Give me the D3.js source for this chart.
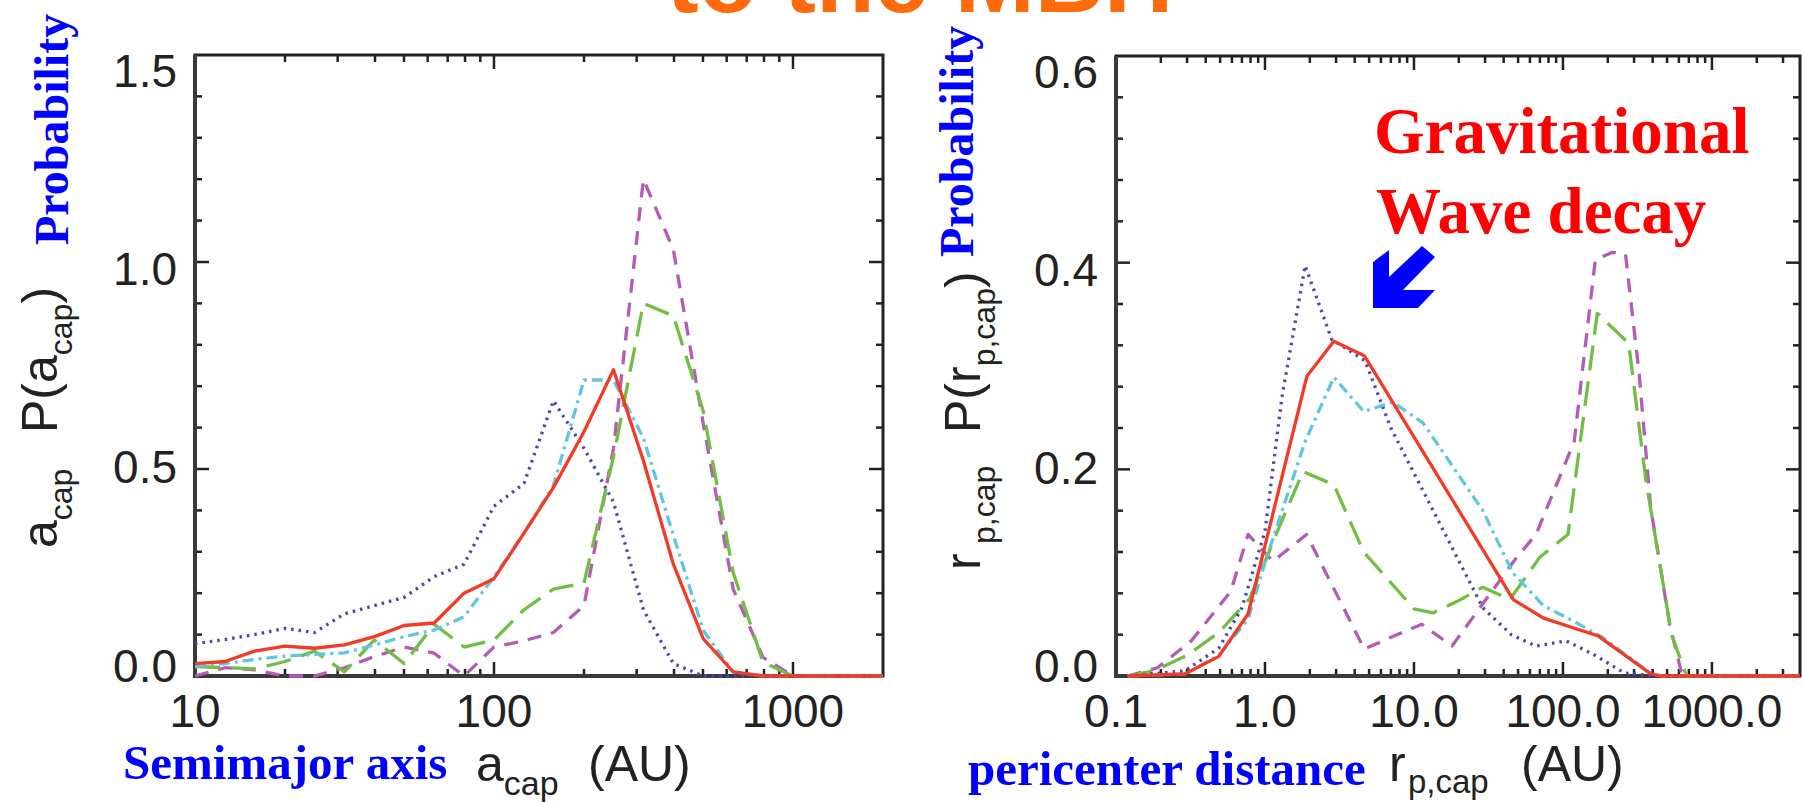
<!doctype html>
<html>
<head>
<meta charset="utf-8">
<script src="https://cdnjs.cloudflare.com/ajax/libs/d3/7.8.5/d3.min.js"></script>
<style>
    body { margin: 0; background: #fff; }
    svg { display: block; }
    .tick-label { font-family: "Liberation Sans", Arial, sans-serif; font-size: 46px; fill: #222; }
    .ax-title { font-family: "Liberation Sans", Arial, sans-serif; font-size: 50px; fill: #222; }
    .note { font-family: "Liberation Serif", "Times New Roman", serif; font-weight: bold; }
</style>
</head>
<body>
<script>
    // ---- left panel: semimajor axis (AU), shared log bins ----
    var aBins    = [10, 12.6, 15.8, 20, 25.1, 31.6, 39.8, 50.1, 63.1, 79.4, 100, 126, 158, 200, 251, 316, 398, 501, 631, 794, 1000, 1259, 1585, 1995];
    var aRed     = [0.03, 0.035, 0.06, 0.072, 0.067, 0.075, 0.095, 0.122, 0.128, 0.2, 0.235, 0.345, 0.455, 0.59, 0.74, 0.52, 0.27, 0.09, 0.01, 0, 0, 0, 0, 0];
    var aBlue    = [0.078, 0.088, 0.1, 0.115, 0.105, 0.15, 0.17, 0.19, 0.24, 0.27, 0.41, 0.465, 0.665, 0.55, 0.42, 0.16, 0.03, 0, 0, 0, 0, 0, 0, 0];
    var aCyan    = [0.023, 0.03, 0.04, 0.048, 0.052, 0.056, 0.075, 0.095, 0.111, 0.143, 0.24, 0.345, 0.46, 0.715, 0.715, 0.575, 0.34, 0.11, 0.01, 0, 0, 0, 0, 0];
    var aGreen   = [0.023, 0.02, 0.017, 0.035, 0.06, 0.01, 0.087, 0.03, 0.125, 0.07, 0.087, 0.16, 0.21, 0.225, 0.53, 0.9, 0.87, 0.64, 0.25, 0.033, 0, 0, 0, 0];
    var aMagenta = [0.0, 0.02, 0.015, 0.0, 0.0, 0.02, 0.047, 0.07, 0.055, 0.0, 0.07, 0.085, 0.105, 0.17, 0.55, 1.2, 1.03, 0.61, 0.21, 0.045, 0, 0, 0, 0];

    // ---- right panel: pericenter distance (AU) -> probability, [r, P] pairs ----
    var rpRed = [[0.12, 0], [0.29, 0.002], [0.49, 0.019], [0.77, 0.06], [1.91, 0.29], [2.9, 0.324], [4.64, 0.31],
        [46.4, 0.074], [74, 0.056], [171, 0.039], [389, 0.002], [450, 0], [3900, 0]];
    var rpBlue = [[0.12, 0], [0.29, 0.005], [0.49, 0.027], [0.7, 0.066], [1.0, 0.14], [1.3, 0.27], [1.86, 0.397],
        [2.8, 0.326], [4.7, 0.305], [7.0, 0.24], [29, 0.066], [45, 0.04], [66, 0.029], [105, 0.034], [160, 0.021],
        [258, 0.003], [400, 0], [3900, 0]];
    var rpCyan = [[0.12, 0], [0.29, 0.002], [0.49, 0.02], [0.77, 0.055], [1.0, 0.11], [1.86, 0.227], [2.9, 0.289],
        [4.6, 0.256], [7.2, 0.265], [11.5, 0.245], [29, 0.16], [46, 0.1], [74, 0.068], [118, 0.053], [186, 0.037],
        [390, 0.002], [470, 0], [3900, 0]];
    var rpGreen = [[0.12, 0], [0.18, 0.005], [0.3, 0.02], [0.49, 0.042], [0.79, 0.075], [1.27, 0.147], [1.8, 0.198],
        [2.9, 0.185], [4.6, 0.12], [10, 0.065], [13.4, 0.061], [20, 0.073], [29, 0.086], [44, 0.074], [70, 0.115],
        [108, 0.137], [170, 0.351], [276, 0.322], [360, 0.19], [536, 0.04], [675, 0], [3900, 0]];
    var rpMagenta = [[0.12, 0], [0.19, 0.008], [0.32, 0.034], [0.59, 0.082], [0.77, 0.137], [1.13, 0.111], [1.9, 0.137],
        [4.64, 0.026], [7.4, 0.039], [11.3, 0.05], [18, 0.029], [49, 0.115], [66, 0.137], [119, 0.227], [165, 0.403],
        [215, 0.41], [263, 0.408], [325, 0.292], [388, 0.163], [520, 0.05], [620, 0.005], [700, 0], [3900, 0]];

    var yTicksLeft = [0, 0.5, 1.0, 1.5];
    var yTicksRight = [0, 0.2, 0.4, 0.6];
    var xLabelsLeft = {10: "10", 100: "100", 1000: "1000"};
    var xLabelsRight = {0.1: "0.1", 1: "1.0", 10: "10.0", 100: "100.0", 1000: "1000.0"};

    var styles = {
        magenta: {color: "#b45cb4", dash: "14,10"},
        green:   {color: "#72be44", dash: "25,11"},
        blue:    {color: "#4646b6", dash: "2.5,5"},
        cyan:    {color: "#62c6e0", dash: "11,5,3,5"},
        red:     {color: "#f23a26", dash: null}
    };

    var W = 1802, H = 802;
    var svg = d3.select("body").append("svg").attr("width", W).attr("height", H);
    svg.append("rect").attr("width", W).attr("height", H).attr("fill", "#fff");

    function drawPanel(id, x, y, yTicks, yMinorStep, xLabels, series) {
        var x0 = x.range()[0], x1 = x.range()[1], yb = y.range()[0], yt = y.range()[1];
        var g = svg.append("g");
        var major = 14, minor = 7;

        // x ticks (log): bottom + top, pointing inward
        x.ticks().forEach(function(v) {
            var lg = Math.log10(v), isMajor = Math.abs(lg - Math.round(lg)) < 1e-6;
            var L = isMajor ? major : minor, px = x(v);
            if (px <= x0 + 1 || px >= x1 - 1) return;
            g.append("line").attr("x1", px).attr("x2", px).attr("y1", yb).attr("y2", yb - L)
                .attr("stroke", "#222").attr("stroke-width", 2.5);
            g.append("line").attr("x1", px).attr("x2", px).attr("y1", yt).attr("y2", yt + L)
                .attr("stroke", "#222").attr("stroke-width", 2.5);
        });
        // y ticks: left + right
        d3.range(0, y.domain()[1] + 1e-9, yMinorStep).forEach(function(v) {
            var isMajor = yTicks.some(function(t) { return Math.abs(t - v) < 1e-6; });
            var L = isMajor ? major : minor, py = y(v);
            if (py >= yb - 1 || py <= yt + 1) return;
            g.append("line").attr("x1", x0).attr("x2", x0 + L).attr("y1", py).attr("y2", py)
                .attr("stroke", "#222").attr("stroke-width", 2.5);
            g.append("line").attr("x1", x1).attr("x2", x1 - L).attr("y1", py).attr("y2", py)
                .attr("stroke", "#222").attr("stroke-width", 2.5);
        });
        // frame: top/right thin, left/bottom a bit heavier as in the scan
        g.append("rect").attr("x", x0).attr("y", yt).attr("width", x1 - x0).attr("height", yb - yt)
            .attr("fill", "none").attr("stroke", "#222").attr("stroke-width", 3);
        g.append("path").attr("d", "M" + x0 + "," + yt + "V" + yb + "H" + x1)
            .attr("fill", "none").attr("stroke", "#3a3a3a").attr("stroke-width", 4);

        // y tick labels (IDL spreads them slightly inward)
        var yLab = d3.scaleLinear().domain(y.domain()).range([yb - 11, yt + 15]);
        yTicks.forEach(function(v) {
            g.append("text").attr("class", "tick-label").attr("x", x0 - 18).attr("y", yLab(v))
                .attr("dy", "0.36em").attr("text-anchor", "end").text(d3.format(".1f")(v));
        });
        // x tick labels
        Object.keys(xLabels).forEach(function(k) {
            g.append("text").attr("class", "tick-label").attr("x", x(+k)).attr("y", 727)
                .attr("text-anchor", "middle").text(xLabels[k]);
        });

        // curves
        svg.append("clipPath").attr("id", id).append("rect")
            .attr("x", x0).attr("y", yt).attr("width", x1 - x0).attr("height", yb - yt + 4);
        var line = d3.line().x(function(d) { return x(d[0]); }).y(function(d) { return y(d[1]); });
        var cg = svg.append("g").attr("clip-path", "url(#" + id + ")");
        ["magenta", "green", "blue", "cyan", "red"].forEach(function(k) {
            var s = styles[k];
            cg.append("path").datum(series[k]).attr("d", line)
                .attr("fill", "none").attr("stroke", s.color).attr("stroke-width", 3.3)
                .attr("stroke-dasharray", s.dash).attr("stroke-linejoin", "round");
        });
    }

    function pairs(bins, vals) { return bins.map(function(b, i) { return [b, vals[i]]; }); }

    var xL = d3.scaleLog().domain([10, 2000]).range([195, 883]);
    var yL = d3.scaleLinear().domain([0, 1.5]).range([676, 55]);
    drawPanel("clipL", xL, yL, yTicksLeft, 0.1, xLabelsLeft, {
        red: pairs(aBins, aRed), blue: pairs(aBins, aBlue), cyan: pairs(aBins, aCyan),
        green: pairs(aBins, aGreen), magenta: pairs(aBins, aMagenta)
    });

    var xR = d3.scaleLog().domain([0.1, 3900]).range([1116, 1800]);
    var yR = d3.scaleLinear().domain([0, 0.6]).range([676, 56]);
    drawPanel("clipR", xR, yR, yTicksRight, 0.04, xLabelsRight, {
        red: rpRed, blue: rpBlue, cyan: rpCyan, green: rpGreen, magenta: rpMagenta
    });

    // ---- titles & annotations ----
    svg.append("text").attr("x", 920).attr("y", 12).attr("text-anchor", "middle")
        .style("font-family", "'Liberation Sans', Arial, sans-serif").style("font-weight", "bold")
        .style("font-size", "96px").attr("fill", "#ff6a0d").text("to the MBH");

    // y-axis titles (rotated)
    var ytl = svg.append("text").attr("class", "ax-title").attr("transform", "translate(57,548) rotate(-90)");
    ytl.append("tspan").text("a");
    ytl.append("tspan").attr("dy", 15).style("font-size", "32px").text("cap");
    ytl.append("tspan").attr("x", 115).attr("dy", -15).text("P(a");
    ytl.append("tspan").attr("dy", 15).style("font-size", "32px").text("cap");
    ytl.append("tspan").attr("dy", -15).text(")");
    svg.append("text").attr("class", "note").attr("transform", "translate(68,245) rotate(-90)")
        .style("font-size", "48px").attr("fill", "#0000ff").text("Probability");

    var ytr = svg.append("text").attr("class", "ax-title").attr("transform", "translate(980,570) rotate(-90)");
    ytr.append("tspan").text("r");
    ytr.append("tspan").attr("x", 26).attr("dy", 15).style("font-size", "32px").text("p,cap");
    ytr.append("tspan").attr("x", 137).attr("dy", -15).text("P(r");
    ytr.append("tspan").attr("dy", 15).style("font-size", "32px").text("p,cap");
    ytr.append("tspan").attr("dy", -15).text(")");
    svg.append("text").attr("class", "note").attr("transform", "translate(973,257) rotate(-90)")
        .style("font-size", "48px").attr("fill", "#0000ff").text("Probability");

    // x-axis titles
    svg.append("text").attr("class", "note").attr("x", 123).attr("y", 779)
        .style("font-size", "49px").attr("fill", "#0000ff").text("Semimajor axis");
    var xtl = svg.append("text").attr("class", "ax-title").attr("x", 476).attr("y", 781);
    xtl.append("tspan").text("a");
    xtl.append("tspan").attr("dy", 14).style("font-size", "34px").text("cap");
    xtl.append("tspan").attr("x", 588).attr("dy", -14).text("(AU)");

    svg.append("text").attr("class", "note").attr("x", 968).attr("y", 785)
        .style("font-size", "49px").attr("fill", "#0000ff").text("pericenter distance");
    var xtr = svg.append("text").attr("class", "ax-title").attr("x", 1389).attr("y", 781);
    xtr.append("tspan").text("r");
    xtr.append("tspan").attr("x", 1408).attr("dy", 12).style("font-size", "33px").text("p,cap");
    xtr.append("tspan").attr("x", 1521).attr("dy", -12).text("(AU)");

    // gravitational wave annotation
    svg.append("text").attr("class", "note").attr("x", 1374).attr("y", 153)
        .style("font-size", "65px").attr("fill", "#ff0000").text("Gravitational");
    svg.append("text").attr("class", "note").attr("x", 1376).attr("y", 233)
        .style("font-size", "65px").attr("fill", "#ff0000").text("Wave decay");
    svg.append("path").attr("transform", "translate(1373,246)")
        .attr("d", "M0,62 L0,16 L16,4 L16,31 L49,0 L62,11 L30,44 L62,44 L45,62 Z")
        .attr("fill", "#0000ff");
</script>
</body>
</html>
